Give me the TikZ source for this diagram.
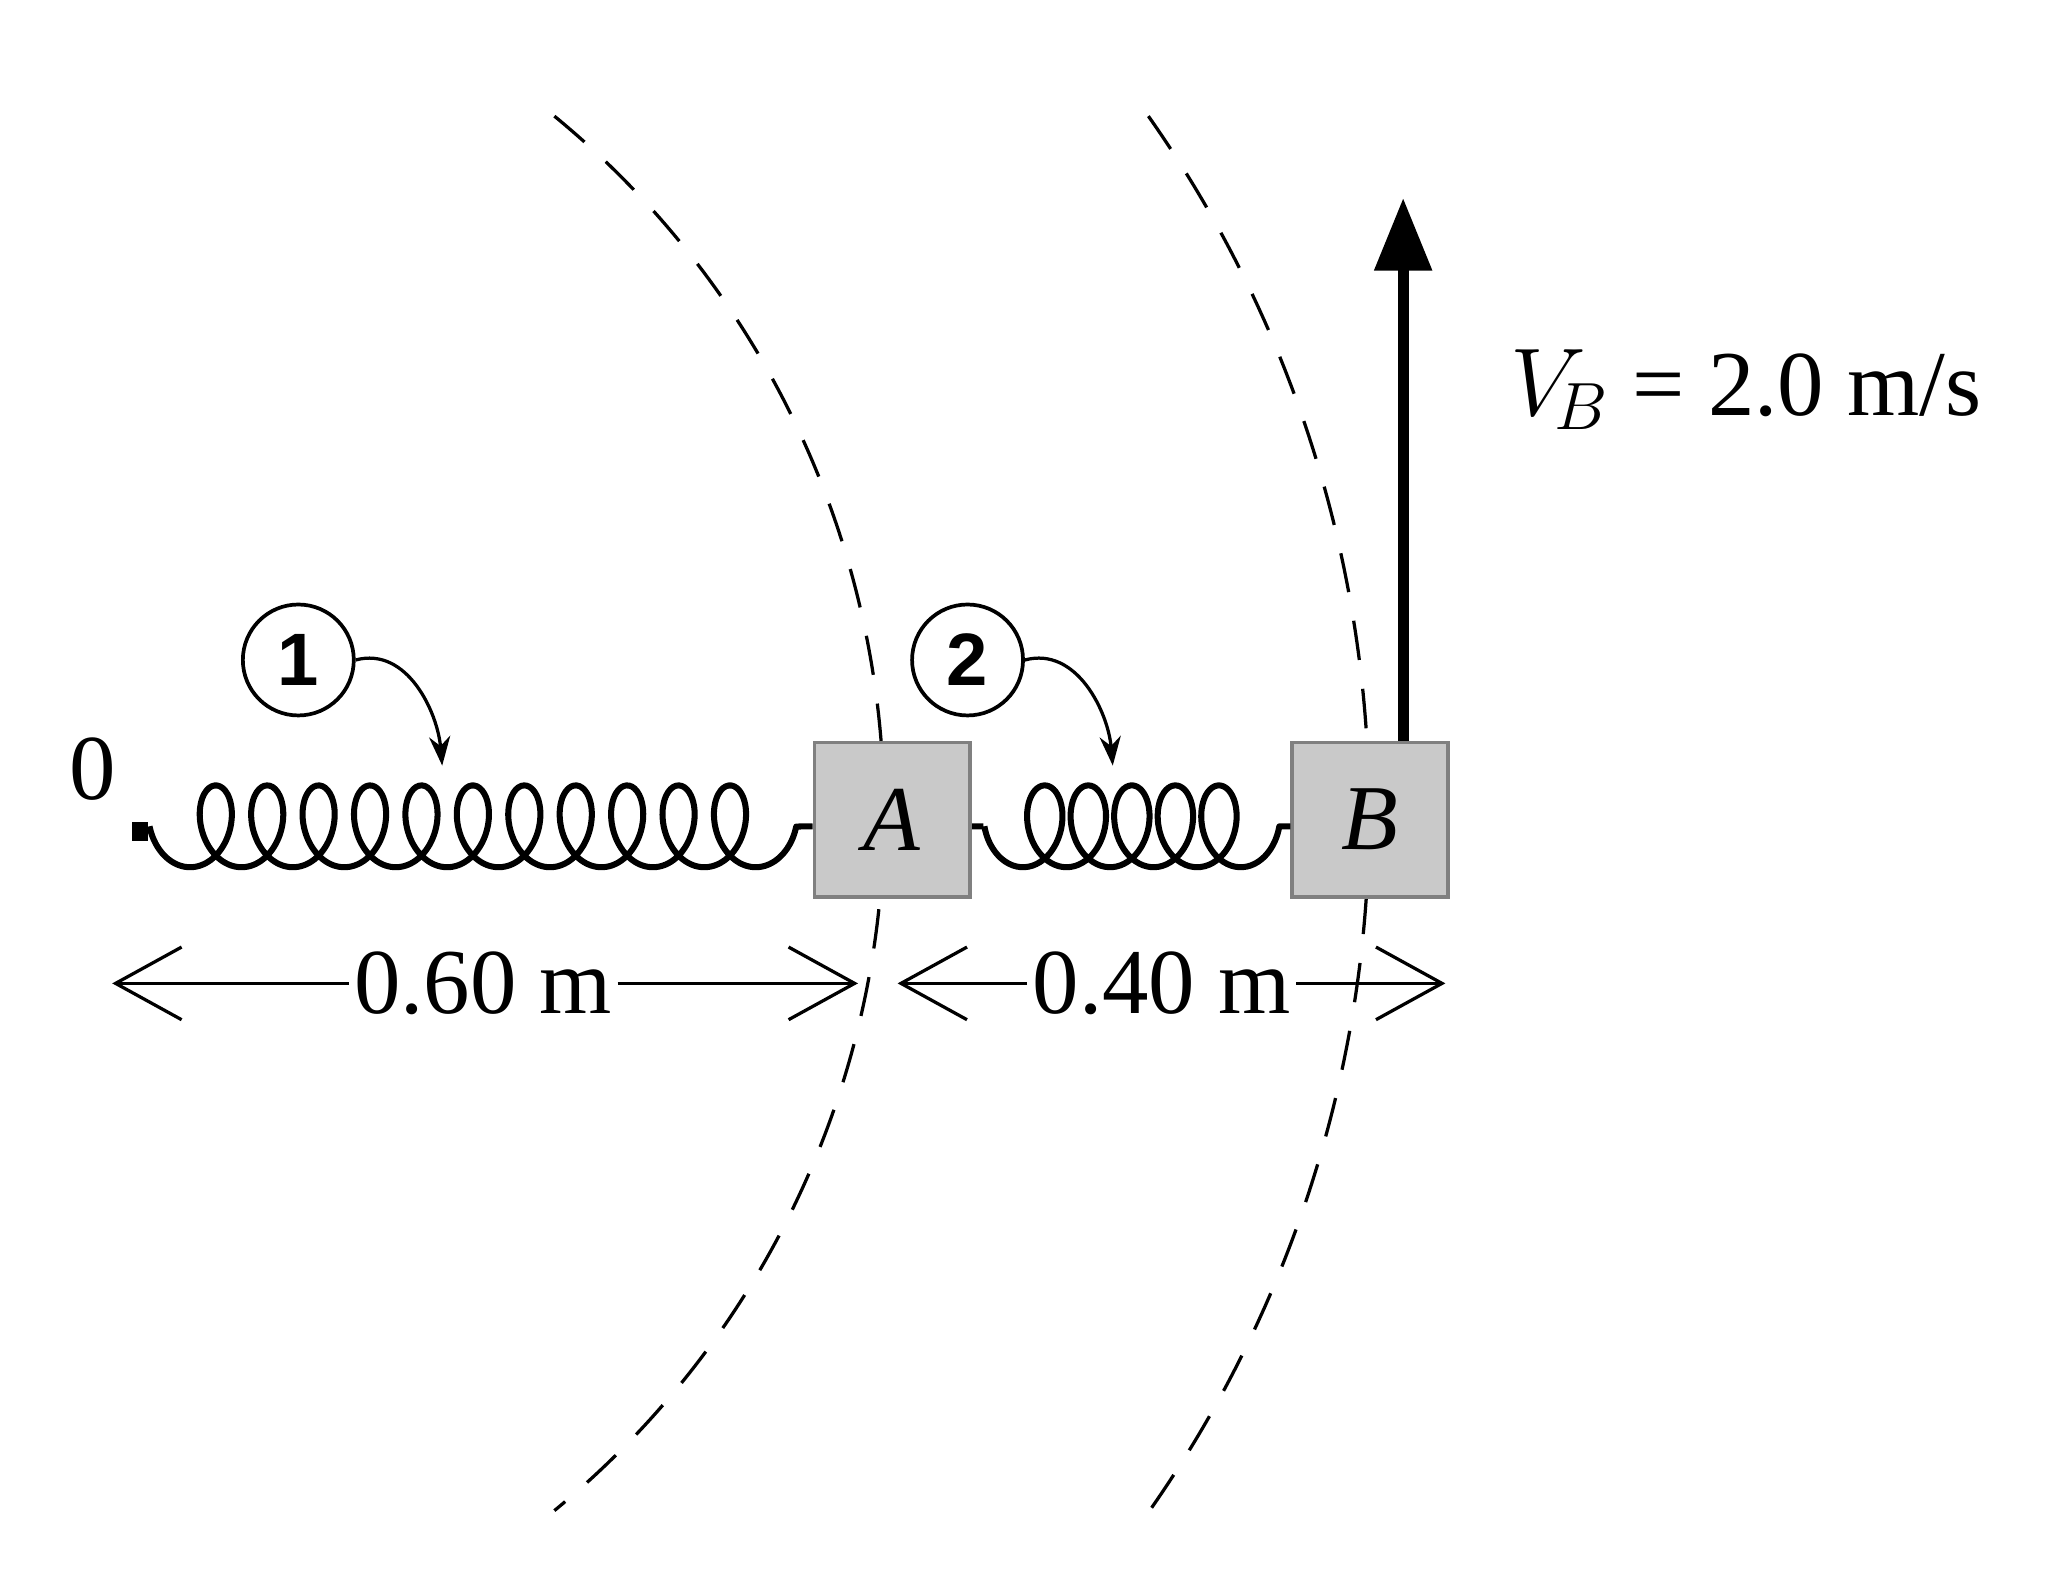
\documentclass[tikz,border=0pt]{standalone}
\usepackage{fontspec}
\setmainfont{Liberation Serif}
\newfontfamily\circfont{Liberation Sans}
\usetikzlibrary{arrows.meta}
\begin{document}
\begin{tikzpicture}[x=0.01cm,y=-0.01cm,
  springline/.style={line width=1.3pt,line join=round},
  blockbox/.style={draw=black!50,line width=0.8pt,fill=black!21,minimum width=1.18cm,minimum height=1.17cm,inner sep=0pt,font=\fontsize{20}{20}\selectfont\itshape},
  dimtip/.style={-{Straight Barb[length=0.5cm,width=0.55cm,line width=0.7pt]}},
  dimline/.style={line width=0.8pt},
  numcirc/.style={draw,circle,line width=0.8pt,minimum size=0.84cm,inner sep=0pt,font=\circfont\bfseries\fontsize{16}{16}\selectfont},
  callout/.style={line width=0.7pt,-{Stealth[length=0.22cm,width=0.16cm]}},
  arc/.style={line width=0.7pt,dash pattern=on 0.3cm off 0.22cm},
  lbl/.style={font=\fontsize{20}{20}\selectfont,inner sep=1pt}]
\useasboundingbox (0,0) rectangle (1550,1204);
% dashed arcs
\draw[arc] (420,88) arc[start angle=-50.6,end angle=50.6,radius=683.6];
\draw[arc] (870,88) arc[start angle=-35.1,end angle=35.1,radius=919.8];
% blocks
\node[blockbox] (A) at (676,621) {A};
\node[blockbox] (B) at (1038,621) {B};
% wall
\node[fill=black,minimum width=0.12cm,minimum height=0.14cm,inner sep=0pt] (wall) at (106,630) {};
\node[lbl] (zero) at (70,583) {0};
% spring 1
\draw[springline] (wall.east) -- (112,627) plot[domain=-1.5708:70.686,samples=500,smooth,variable=\t] ({144+6.2*\t+21*sin(\t r)},{626+31*cos(\t r)}) -- (A.west|-0,626);
% spring 2
\draw[springline] (A.east|-0,626) -- (745,626) plot[domain=-1.5708:32.987,samples=300,smooth,variable=\t] ({775+5.25*\t+21*sin(\t r)},{626+31*cos(\t r)}) -- (B.west|-0,626);
% velocity arrow
\coordinate (vtop) at (1063,150);
\draw[line width=2.3pt,-{Triangle[length=0.55cm,width=0.42cm]}] (B.north-|vtop) -- (vtop);
\node[lbl,anchor=west] (vb) at (1140,295) {$V_{\!B}$ = 2.0 m/s};
% callouts
\node[numcirc] (c1) at (226,500) {1};
\node[numcirc] (c2) at (733,500) {2};
\coordinate (p1) at (335,580);
\coordinate (p2) at (843,580);
\draw[callout] (c1.east) to[out=15,in=95] (p1);
\draw[callout] (c2.east) to[out=15,in=95] (p2);
% dimensions
\node[lbl] (d1) at (366,745) {0.60 m};
\node[lbl] (d2) at (880,745) {0.40 m};
\coordinate (l1) at (85,745);
\coordinate (r1) at (650,745);
\coordinate (l2) at (680,745);
\coordinate (r2) at (1095,745);
\draw[dimline,dimtip] (d1.west) -- (l1);
\draw[dimline,dimtip] (d1.east) -- (r1);
\draw[dimline,dimtip] (d2.west) -- (l2);
\draw[dimline,dimtip] (d2.east) -- (r2);
\end{tikzpicture}
\end{document}
